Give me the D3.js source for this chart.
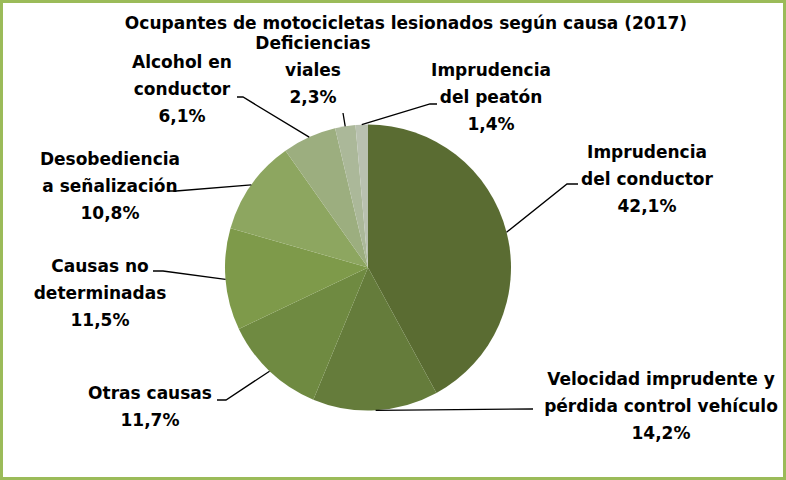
<!DOCTYPE html>
<html>
<head>
<meta charset="utf-8">
<script src="https://cdn.jsdelivr.net/npm/d3@7"></script>
<style>
  body { margin: 0; background: #fff; }
  text { font-family: "DejaVu Sans", sans-serif; font-weight: bold; font-size: 17px; fill: #000; }
</style>
</head>
<body>
<div id="chart"></div>
<script>
// Ocupantes de motocicletas lesionados segun causa (2017)

// data
var causes = [
  ["Imprudencia", "del conductor"],
  ["Velocidad imprudente y", "pérdida control vehículo"],
  ["Otras causas"],
  ["Causas no", "determinadas"],
  ["Desobediencia", "a señalización"],
  ["Alcohol en", "conductor"],
  ["Deficiencias", "viales"],
  ["Imprudencia", "del peatón"]
];
var percents = [42.1, 14.2, 11.7, 11.5, 10.8, 6.1, 2.3, 1.4];
var colors = ["#5a6c32", "#657c3b", "#6f8a41", "#7e9a4a", "#8da660", "#9cae7f", "#abb899", "#b9c1b0"];

// label placement (x center, first baseline, leader elbow x, leader end x, leader y)
var labelPos = [
  { x: 647, y: 158, ex: 567, tx: 578, ly: 184 },
  { x: 661, y: 385, ex: 533, tx: 533, ly: 409 },
  { x: 150, y: 399, ex: 226, tx: 217, ly: 400 },
  { x: 100, y: 272, ex: 163, tx: 153, ly: 271 },
  { x: 110, y: 165, ex: 176, tx: 168, ly: 191 },
  { x: 182, y: 68,  ex: 243, tx: 237, ly: 97 },
  { x: 313, y: 49,  ex: 343, tx: 343, ly: 113 },
  { x: 491, y: 76,  ex: 430, tx: 437, ly: 104 }
];

var svgWidth = 786;
var svgHeight = 480;
var radius = 143;
var cx = 368, cy = 267.5;
var lineGap = 27;

var svg = d3.select("#chart").append("svg")
  .attr("width", svgWidth)
  .attr("height", svgHeight);

// frame
svg.append("rect")
  .attr("x", 1.5).attr("y", 1.5)
  .attr("width", svgWidth - 3).attr("height", svgHeight - 3)
  .attr("fill", "#fff")
  .attr("stroke", "#9bbb59")
  .attr("stroke-width", 3);

// title
svg.append("text")
  .attr("x", 406)
  .attr("y", 29)
  .attr("text-anchor", "middle")
  .text("Ocupantes de motocicletas lesionados según causa (2017)");

var pie = d3.pie().sort(null).value(d => d);
var arcs = pie(percents);
var arc = d3.arc().innerRadius(0).outerRadius(radius);

var pieGroup = svg.append("g")
  .attr("transform", `translate(${cx}, ${cy})`);

pieGroup.selectAll("path")
  .data(arcs)
  .enter()
  .append("path")
  .attr("d", arc)
  .attr("fill", (d, i) => colors[i]);

// leader lines: from slice edge at middle angle to the label
arcs.forEach(function(d, i) {
  var mid = (d.startAngle + d.endAngle) / 2;
  var px = cx + radius * Math.sin(mid);
  var py = cy - radius * Math.cos(mid);
  var p = labelPos[i];
  svg.append("polyline")
    .attr("points", `${px},${py} ${p.ex},${p.ly} ${p.tx},${p.ly}`)
    .attr("fill", "none")
    .attr("stroke", "#000")
    .attr("stroke-width", 1.3);
});

// labels
arcs.forEach(function(d, i) {
  var p = labelPos[i];
  var lines = causes[i].concat([String(percents[i]).replace(".", ",") + "%"]);
  var t = svg.append("text")
    .attr("text-anchor", "middle");
  lines.forEach(function(s, j) {
    t.append("tspan")
      .attr("x", p.x)
      .attr("y", p.y + j * lineGap)
      .text(s);
  });
});
</script>
</body>
</html>
